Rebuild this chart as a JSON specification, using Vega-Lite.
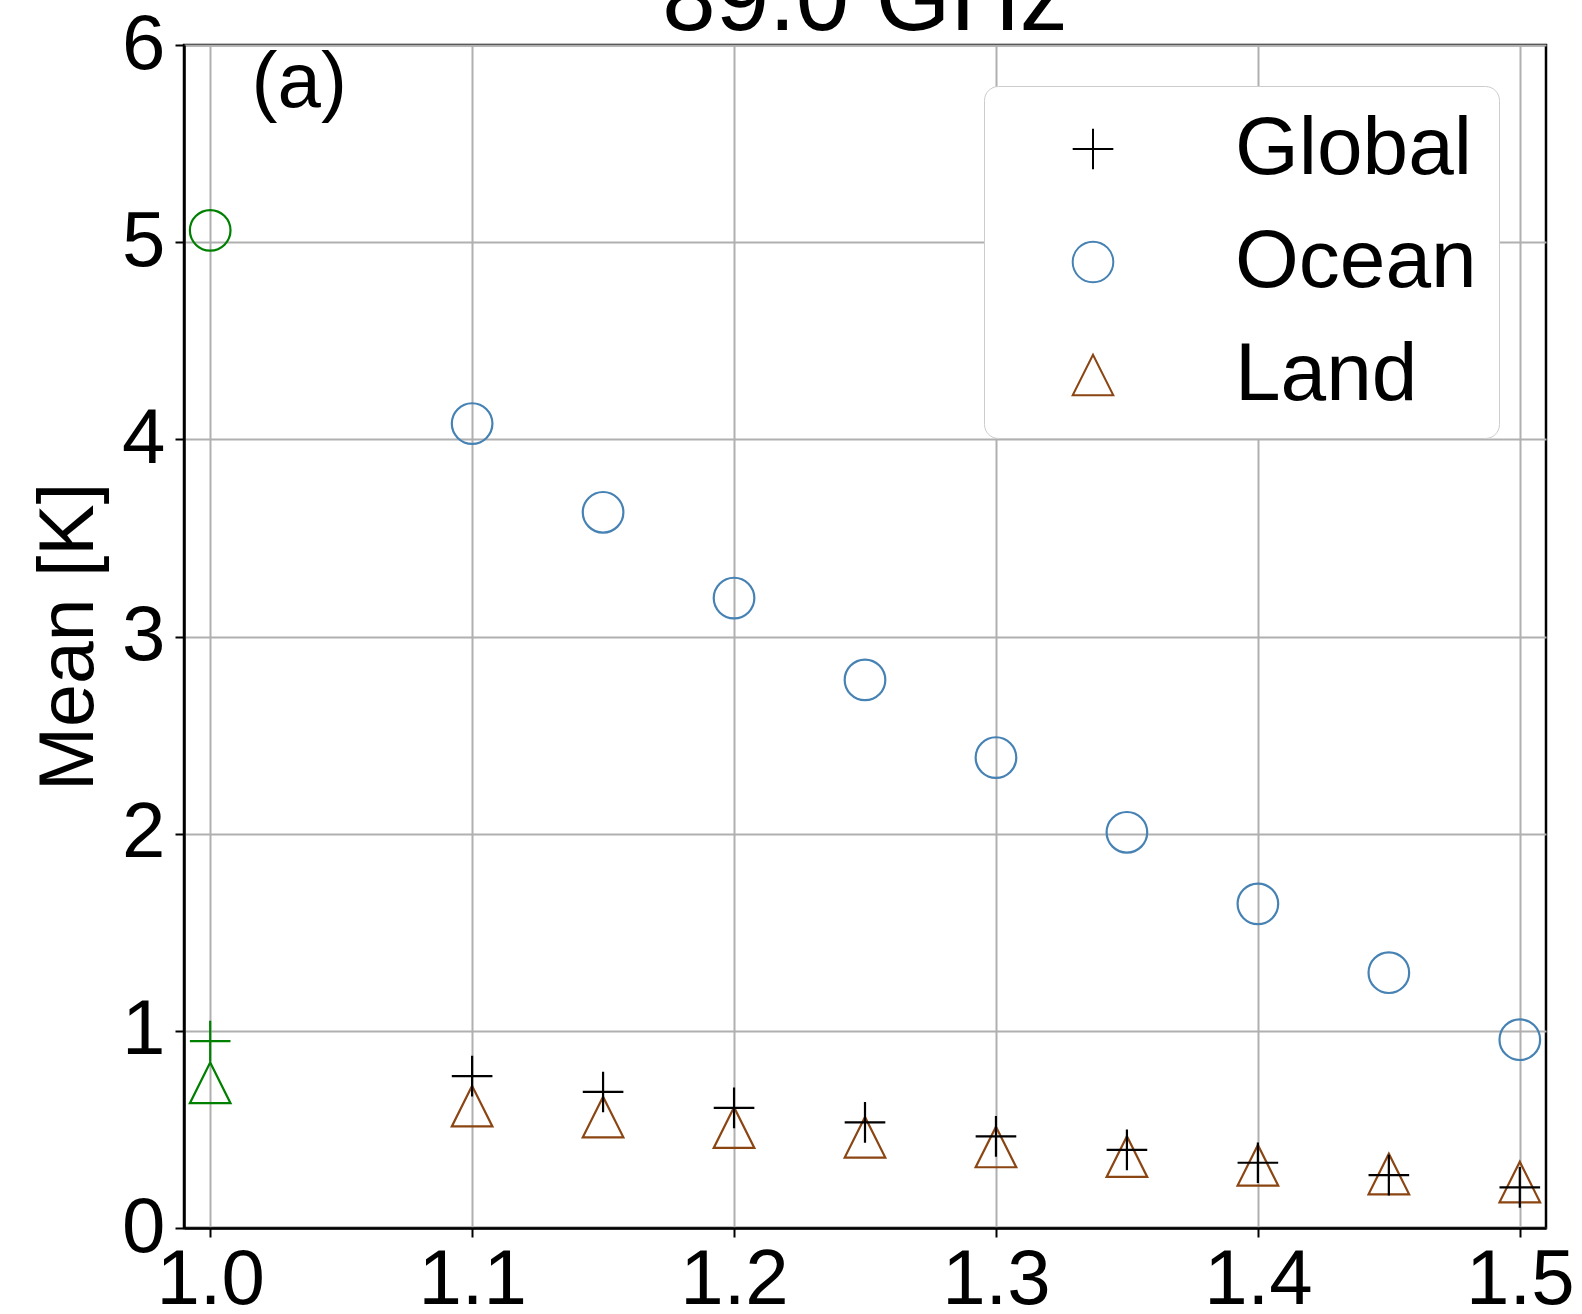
{
  "$schema": "https://vega.github.io/schema/vega-lite/v6.json",
  "width": 1362,
  "height": 1183,
  "autosize": {"type": "none"},
  "padding": {"left": 184, "top": 45, "right": 36, "bottom": 86},
  "background": "white",
  "title": {"text": "89.0 GHz", "fontSize": 96, "font": "Liberation Sans", "fontWeight": "normal", "color": "black", "anchor": "middle", "baseline": "alphabetic", "offset": 0, "dy": 120},
  "config": {
    "view": {"stroke": "black", "strokeWidth": 2.5},
    "font": "Liberation Sans",
    "axis": {"labelFont": "Liberation Sans", "labelFontSize": 78, "labelColor": "black", "titleFont": "Liberation Sans", "titleFontSize": 77, "titleFontWeight": "normal", "titleColor": "black", "domainColor": "black", "domainWidth": 2.5, "tickColor": "black", "tickWidth": 2, "tickSize": 9, "gridColor": "#b0b0b0", "gridWidth": 2, "labelPadding": 4, "grid": true, "labelFlush": false, "labelOverlap": false},
    "legend": {"orient": "none", "legendX": 800, "legendY": 41, "labelFontSize": 82, "labelFont": "Liberation Sans", "labelColor": "black", "symbolSize": 1650, "symbolStrokeWidth": 2, "padding": 22, "rowPadding": 31, "symbolOffset": 46, "labelOffset": 101, "strokeColor": "#cccccc", "fillColor": "white", "cornerRadius": 14, "labelLimit": 500}
  },
  "layer": [
    {
      "data": {"values": [
        {"x": 1.0, "surface": "Ocean", "mean": 5.06},
        {"x": 1.1, "surface": "Ocean", "mean": 4.08},
        {"x": 1.15, "surface": "Ocean", "mean": 3.63},
        {"x": 1.2, "surface": "Ocean", "mean": 3.195},
        {"x": 1.25, "surface": "Ocean", "mean": 2.78},
        {"x": 1.3, "surface": "Ocean", "mean": 2.386},
        {"x": 1.35, "surface": "Ocean", "mean": 2.007},
        {"x": 1.4, "surface": "Ocean", "mean": 1.644},
        {"x": 1.45, "surface": "Ocean", "mean": 1.295},
        {"x": 1.5, "surface": "Ocean", "mean": 0.955},
        {"x": 1.0, "surface": "Land", "mean": 0.736},
        {"x": 1.1, "surface": "Land", "mean": 0.618},
        {"x": 1.15, "surface": "Land", "mean": 0.563},
        {"x": 1.2, "surface": "Land", "mean": 0.509},
        {"x": 1.25, "surface": "Land", "mean": 0.46},
        {"x": 1.3, "surface": "Land", "mean": 0.411},
        {"x": 1.35, "surface": "Land", "mean": 0.362},
        {"x": 1.4, "surface": "Land", "mean": 0.318},
        {"x": 1.45, "surface": "Land", "mean": 0.274},
        {"x": 1.5, "surface": "Land", "mean": 0.233},
        {"x": 1.0, "surface": "Global", "mean": 0.948},
        {"x": 1.1, "surface": "Global", "mean": 0.77},
        {"x": 1.15, "surface": "Global", "mean": 0.69},
        {"x": 1.2, "surface": "Global", "mean": 0.609},
        {"x": 1.25, "surface": "Global", "mean": 0.536},
        {"x": 1.3, "surface": "Global", "mean": 0.465},
        {"x": 1.35, "surface": "Global", "mean": 0.396},
        {"x": 1.4, "surface": "Global", "mean": 0.331},
        {"x": 1.45, "surface": "Global", "mean": 0.268},
        {"x": 1.5, "surface": "Global", "mean": 0.206}
      ]},
      "mark": {"type": "point", "filled": false, "strokeWidth": 2.2, "size": 1650, "opacity": 1},
      "encoding": {
        "x": {"field": "x", "type": "quantitative", "scale": {"domain": [0.99, 1.51], "nice": false, "zero": false}, "axis": {"values": [1.0, 1.1, 1.2, 1.3, 1.4, 1.5], "format": ".1f", "title": null}},
        "y": {"field": "mean", "type": "quantitative", "scale": {"domain": [0, 6], "nice": false}, "axis": {"values": [0, 1, 2, 3, 4, 5, 6], "format": "d", "title": "Mean [K]", "titlePadding": 13, "labelPadding": 10}},
        "shape": {"field": "surface", "type": "nominal", "scale": {"domain": ["Global", "Ocean", "Land"], "range": ["M-1,0L1,0M0,-1L0,1", "circle", "M0,-1L-1,1L1,1Z"]}, "legend": {"title": null}},
        "color": {"condition": {"test": "datum.x === 1", "value": "#008000"}, "field": "surface", "type": "nominal", "scale": {"domain": ["Global", "Ocean", "Land"], "range": ["black", "#4682b4", "#8b4513"]}, "legend": {"title": null}}
      }
    },
    {
      "data": {"values": [{"label": "(a)"}]},
      "mark": {"type": "text", "fontSize": 78, "font": "Liberation Sans", "color": "black", "align": "center", "baseline": "middle"},
      "encoding": {"text": {"field": "label"}, "x": {"datum": 1.034}, "y": {"datum": 5.8}}
    }
  ]
}
